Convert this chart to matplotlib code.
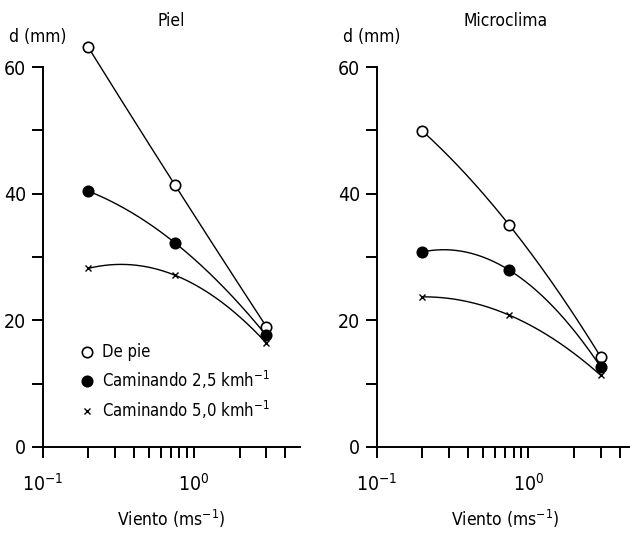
import numpy as np
import matplotlib
matplotlib.use("Agg")
import matplotlib.pyplot as plt
from matplotlib.lines import Line2D
from matplotlib.ticker import FixedLocator, NullFormatter, FixedFormatter

plt.rcParams['font.family'] = ['DejaVu Sans']
plt.rcParams['font.stretch'] = 'condensed'
plt.rcParams['mathtext.fontset'] = 'custom'
plt.rcParams['mathtext.rm'] = 'DejaVu Sans:stretch=condensed'

# data
viento = [0.2, 0.75, 3.0]
piel_de_pie = [63.1, 41.3, 19.0]
piel_cam25 = [40.4, 32.2, 17.6]
piel_cam50 = [28.2, 27.1, 16.4]
micro_de_pie = [49.9, 35.0, 14.2]
micro_cam25 = [30.8, 27.9, 12.6]
micro_cam50 = [23.7, 20.8, 11.3]
titles = ["Piel", "Microclima"]
legend_labels = ["De pie", r"Caminando 2,5 kmh$^{\mathregular{-1}}$", r"Caminando 5,0 kmh$^{\mathregular{-1}}$"]
yticks = [0, 20, 40, 60]
xtick_labels = [r"10$^{\mathregular{-1}}$", r"10$^{\mathregular{0}}$"]

fig = plt.figure(figsize=(6.3, 5.41), dpi=100)
axes = [fig.add_axes([0.068, 0.174, 0.408, 0.702]),
        fig.add_axes([0.598, 0.174, 0.409, 0.702])]

series = [[piel_de_pie, piel_cam25, piel_cam50],
          [micro_de_pie, micro_cam25, micro_cam50]]
styles = [dict(marker='o', mfc='white', mec='black', ms=7.5, mew=1.2),
          dict(marker='o', mfc='black', mec='black', ms=7.5, mew=1.2),
          dict(marker='x', mfc='black', mec='black', ms=4.5, mew=1.0)]

for ax, title, ser in zip(axes, titles, series):
    ax.set_xscale('log')
    ax.set_xlim(0.1, 5)
    ax.set_ylim(0, 60)
    lx = np.log10(viento)
    for vals, st in zip(ser, styles):
        coef = np.polyfit(lx, vals, 2)
        xs = np.linspace(lx[0], lx[-1], 200)
        ax.plot(10**xs, np.polyval(coef, xs), color='black', lw=1.0, clip_on=False)
        ax.plot(viento, vals, linestyle='none', clip_on=False, zorder=5, **st)
    for s in ['top', 'right']:
        ax.spines[s].set_visible(False)
    for s in ['left', 'bottom']:
        ax.spines[s].set_linewidth(1.4)
    ax.yaxis.set_major_locator(FixedLocator(yticks))
    ax.yaxis.set_minor_locator(FixedLocator([10, 30, 50]))
    ax.xaxis.set_major_locator(FixedLocator([0.1, 1.0]))
    ax.xaxis.set_major_formatter(FixedFormatter(xtick_labels))
    ax.xaxis.set_minor_locator(FixedLocator([0.2, 0.3, 0.4, 0.5, 0.6, 0.7, 0.8, 0.9, 2, 3, 4]))
    ax.xaxis.set_minor_formatter(NullFormatter())
    ax.tick_params(axis='both', which='both', direction='out', length=8, width=1.4, labelsize=14)
    ax.tick_params(axis='x', which='major', pad=11)
    ax.tick_params(axis='y', which='major', pad=4)
    ax.set_xlabel(r"Viento (ms$^{\mathregular{-1}}$)", fontsize=12.5, labelpad=9)
    ax.set_title(title, fontsize=12.5, y=1.085)
    ax.text(-0.13, 1.055, "d (mm)", transform=ax.transAxes, fontsize=12.5, ha='left', va='bottom')

handles = [Line2D([], [], linestyle='none', **st) for st in styles]
axes[0].legend(handles, legend_labels, loc='upper left', bbox_to_anchor=(0.115, 0.29),
               frameon=False, fontsize=12, handlelength=1.0, handletextpad=0.4,
               labelspacing=0.45, borderaxespad=0)

fig.savefig("out.png", dpi=100)
